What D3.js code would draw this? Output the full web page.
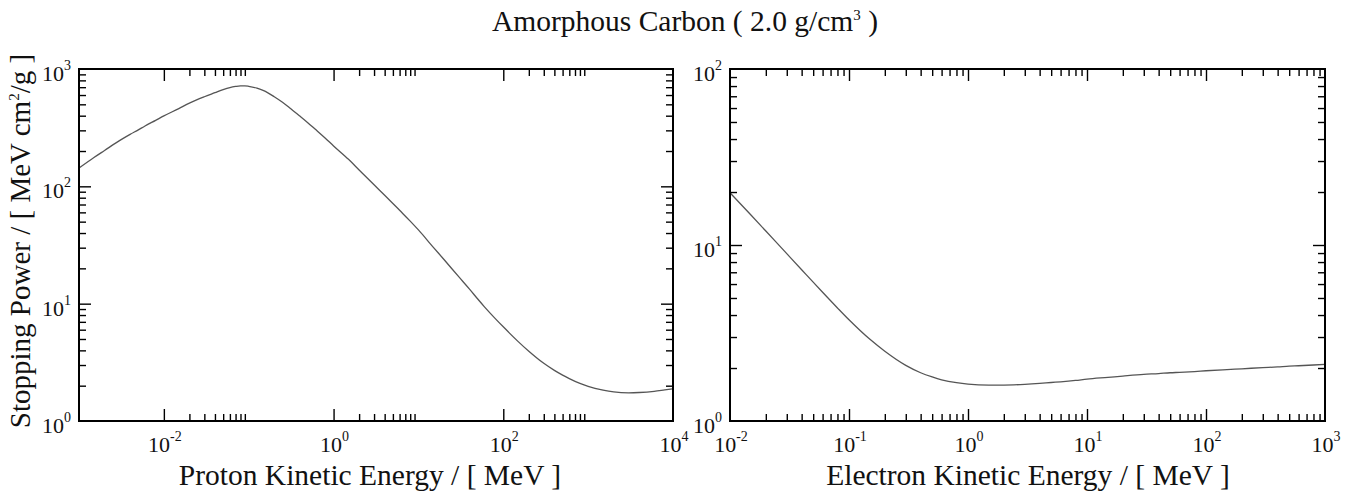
<!DOCTYPE html>
<html>
<head>
<meta charset="utf-8">
<script src="https://cdn.jsdelivr.net/npm/d3@7/dist/d3.min.js"></script>
<style>
  html, body { margin: 0; padding: 0; background: #fff; }
  svg { display: block; }
  text { font-family: "Liberation Serif", "Times New Roman", serif; fill: #111; }
</style>
</head>
<body>
<svg id="chart" width="1357" height="496"></svg>
<script>
// Proton stopping power in amorphous carbon (MeV cm^2/g)
const protonEnergy = [0.001, 0.0015, 0.002, 0.003, 0.004, 0.005, 0.006, 0.008, 0.01, 0.015,
  0.02, 0.03, 0.04, 0.05, 0.06, 0.07, 0.08, 0.09, 0.1, 0.125, 0.15, 0.2, 0.25, 0.3, 0.4,
  0.5, 0.6, 0.8, 1, 1.5, 2, 3, 4, 5, 6, 8, 10, 15, 20, 30, 40, 50, 60, 80, 100, 150, 200,
  300, 400, 500, 600, 800, 1000, 1500, 2000, 3000, 4000, 6000, 8000, 10000];
const protonStopping = [143, 176, 202, 245, 277, 303, 327, 365, 398, 460,
  512, 580, 628, 668, 695, 710, 718, 718, 712, 687, 655, 580, 520, 470, 397,
  347, 309, 257, 221, 170, 138, 103, 84, 71.5, 62.5, 50.5, 42.5, 30.2, 23.8, 16.9, 13.3, 10.95, 9.4, 7.5, 6.35, 4.75, 3.93,
  3.1, 2.7, 2.46, 2.3, 2.09, 1.97, 1.83, 1.77, 1.74, 1.75, 1.79, 1.84, 1.88];

// Electron (collision) stopping power in amorphous carbon (MeV cm^2/g)
const electronEnergy = [0.01, 0.015, 0.02, 0.03, 0.04, 0.05, 0.06, 0.08, 0.1, 0.15, 0.2, 0.3,
  0.4, 0.5, 0.6, 0.8, 1, 1.5, 2, 3, 4, 5, 6, 8, 10, 15, 20, 30, 40, 50, 60, 80, 100,
  150, 200, 300, 400, 500, 600, 800, 1000];
const electronStopping = [19.8, 14.8, 12.0, 8.93, 7.24, 6.15, 5.39, 4.39, 3.76, 2.91, 2.49, 2.07,
  1.88, 1.78, 1.715, 1.65, 1.62, 1.60, 1.60, 1.615, 1.635, 1.655, 1.67, 1.70, 1.73, 1.77, 1.80, 1.84, 1.86, 1.88, 1.89, 1.91, 1.93,
  1.96, 1.98, 2.01, 2.03, 2.05, 2.06, 2.08, 2.10];

// Axis decades
const protonXLabels = [-2, 0, 2, 4];          // labelled exponents
const protonXMajors = [-2, 0, 2];             // inner major ticks
const protonXMinorDecades = [-2, 0, 2];       // decades carrying 2..9 minor ticks
const protonYLabels = [0, 1, 2, 3];
const electronXLabels = [-2, -1, 0, 1, 2, 3];
const electronXMajors = [-1, 0, 1, 2];
const electronXMinorDecades = [-2, -1, 0, 1, 2];
const electronYLabels = [0, 1, 2];

const titleText = "Amorphous Carbon ( 2.0 g/cm";
const yTitle = "Stopping Power / [ MeV cm";
const protonXTitle = "Proton Kinetic Energy / [ MeV ]";
const electronXTitle = "Electron Kinetic Energy / [ MeV ]";

const svg = d3.select("#chart");
const plotTop = 69, plotBottom = 421;
const majorLen = 12, minorLen = 7;
const titleSize = "29.5px";

function minorsFor(decades) {
  const out = [];
  decades.forEach(d => { for (let k = 2; k <= 9; k++) out.push(k * Math.pow(10, d)); });
  return out;
}

function powLabel(g, x, y, exp, anchor) {
  const t = g.append("text")
    .attr("x", x).attr("y", y)
    .attr("text-anchor", anchor)
    .style("font-size", "22px");
  t.append("tspan").text("10");
  t.append("tspan").attr("dy", -11).style("font-size", "14px").text(String(exp));
  return t;
}

function panel(opts) {
  const x = d3.scaleLog().domain(opts.xDomain).range([opts.left, opts.right]);
  const y = d3.scaleLog().domain(opts.yDomain).range([plotBottom, plotTop]);
  const g = svg.append("g");

  const clipId = "clip" + opts.id;
  svg.append("clipPath").attr("id", clipId).append("rect")
    .attr("x", opts.left).attr("y", plotTop)
    .attr("width", opts.right - opts.left).attr("height", plotBottom - plotTop);

  // data curve
  const line = d3.line().x(d => x(d[0])).y(d => y(d[1])).curve(d3.curveMonotoneX);
  g.append("path")
    .datum(opts.energy.map((e, i) => [e, opts.stopping[i]]))
    .attr("clip-path", `url(#${clipId})`)
    .attr("fill", "none")
    .attr("stroke", "#555")
    .attr("stroke-width", 1.3)
    .attr("d", line);

  const xMaj = opts.xMajors.map(e => Math.pow(10, e));
  const xMin = minorsFor(opts.xMinorDecades);
  const lo = Math.round(Math.log10(opts.yDomain[0])), hi = Math.round(Math.log10(opts.yDomain[1]));
  const yMaj = d3.range(lo + 1, hi).map(e => Math.pow(10, e));
  const yMin = minorsFor(d3.range(lo, hi));

  function tickAxis(axisFn, scale, values, len, transform) {
    const a = axisFn(scale).tickValues(values).tickSizeInner(-len).tickSizeOuter(0).tickFormat(() => "");
    const ag = g.append("g").attr("transform", transform).call(a);
    ag.select(".domain").remove();
    ag.selectAll("line").attr("stroke", "#000").attr("stroke-width", 1.4);
  }
  // ticks on all four sides, pointing inward
  tickAxis(d3.axisBottom, x, xMaj, majorLen, `translate(0,${plotBottom})`);
  tickAxis(d3.axisBottom, x, xMin, minorLen, `translate(0,${plotBottom})`);
  tickAxis(d3.axisTop, x, xMaj, majorLen, `translate(0,${plotTop})`);
  tickAxis(d3.axisTop, x, xMin, minorLen, `translate(0,${plotTop})`);
  tickAxis(d3.axisLeft, y, yMaj, majorLen, `translate(${opts.left},0)`);
  tickAxis(d3.axisLeft, y, yMin, minorLen, `translate(${opts.left},0)`);
  tickAxis(d3.axisRight, y, yMaj, majorLen, `translate(${opts.right},0)`);
  tickAxis(d3.axisRight, y, yMin, minorLen, `translate(${opts.right},0)`);

  // frame
  g.append("rect")
    .attr("x", opts.left).attr("y", plotTop)
    .attr("width", opts.right - opts.left).attr("height", plotBottom - plotTop)
    .attr("fill", "none").attr("stroke", "#000").attr("stroke-width", 2);

  // tick labels
  opts.xLabels.forEach(e => powLabel(g, x(Math.pow(10, e)) + 1, plotBottom + 31, e, "middle"));
  opts.yLabels.forEach(e => powLabel(g, opts.left - 8, y(Math.pow(10, e)) + 12, e, "end"));

  // x title
  g.append("text")
    .attr("x", opts.xTitleX).attr("y", 485)
    .attr("text-anchor", "middle")
    .style("font-size", titleSize)
    .text(opts.xTitle);
}

panel({
  id: "p", left: 79, right: 673,
  xDomain: [1e-3, 1e4], yDomain: [1, 1e3],
  energy: protonEnergy, stopping: protonStopping,
  xMajors: protonXMajors, xMinorDecades: protonXMinorDecades,
  xLabels: protonXLabels, yLabels: protonYLabels,
  xTitle: protonXTitle, xTitleX: 370
});

panel({
  id: "e", left: 730, right: 1325,
  xDomain: [1e-2, 1e3], yDomain: [1, 1e2],
  energy: electronEnergy, stopping: electronStopping,
  xMajors: electronXMajors, xMinorDecades: electronXMinorDecades,
  xLabels: electronXLabels, yLabels: electronYLabels,
  xTitle: electronXTitle, xTitleX: 1028
});

// main title
const tt = svg.append("text")
  .attr("x", 685).attr("y", 31)
  .attr("text-anchor", "middle")
  .style("font-size", titleSize);
tt.append("tspan").text(titleText);
tt.append("tspan").attr("dy", -11).style("font-size", "15px").text("3");
tt.append("tspan").attr("dy", 11).text(" )");

// y title
const yt = svg.append("text")
  .attr("transform", "translate(30,241) rotate(-90)")
  .attr("text-anchor", "middle")
  .style("font-size", "29px");
yt.append("tspan").text(yTitle);
yt.append("tspan").attr("dy", -11).style("font-size", "15px").text("2");
yt.append("tspan").attr("dy", 11).text("/g ]");
</script>
</body>
</html>
